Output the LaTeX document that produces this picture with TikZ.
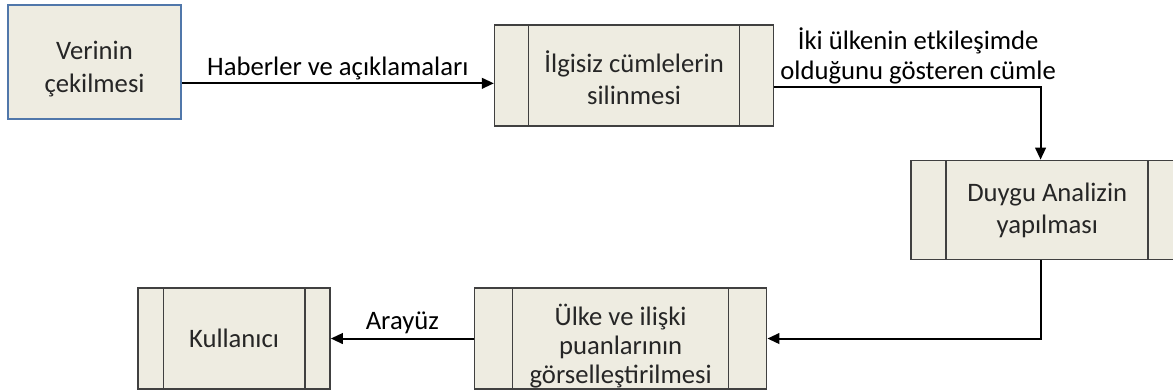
\documentclass[tikz,border=0pt]{standalone}
\usepackage{fontspec}
\setmainfont{Carlito}
\usetikzlibrary{arrows.meta,positioning}
\definecolor{kutu}{HTML}{EEECE1}
\definecolor{cerceve}{HTML}{404040}
\definecolor{mavi}{HTML}{5077AA}

\begin{document}
\begin{tikzpicture}[
	x=1pt,y=1pt,
	node distance=20pt,
	box/.style={draw=cerceve,line width=1.2pt,fill=kutu,rectangle,font=\fontsize{20}{24}\selectfont,align=center,text=black!85,inner sep=0pt},
	proc/.style={box,path picture={
		\draw[cerceve,line width=1.2pt] ([xshift=#1]path picture bounding box.north west) -- ([xshift=#1]path picture bounding box.south west);
		\draw[cerceve,line width=1.2pt] ([xshift=-#1]path picture bounding box.north east) -- ([xshift=-#1]path picture bounding box.south east);}},
	flow/.style={-{Triangle[length=9pt,width=8pt]},line width=1.5pt},
	etiket/.style={font=\fontsize{20}{22.5}\selectfont,align=center,inner sep=0pt}
	]
	
	\useasboundingbox (0,0) rectangle (879.75,294);
	
	% Veri kaynağı
	\node[box,draw=mavi,minimum width=129.75pt,minimum height=85.5pt,font=\fontsize{20}{24.5}\selectfont] (verinin) at (70.9,247.5) {\rule{0pt}{24pt}Verinin\\çekilmesi};
	
	% Süreç adımları
	\node[proc=25.5pt,minimum width=209.25pt,minimum height=75.75pt,right=234pt of verinin,yshift=-10pt] (ilgisiz) {\rule{0pt}{20pt}İlgisiz cümlelerin\\silinmesi};
	\node[proc=26.25pt,minimum width=204pt,minimum height=74.25pt,below right=24.75pt and 102pt of ilgisiz] (duygu) {Duygu Analizin\\yapılması};
	\node[proc=28.5pt,minimum width=219pt,minimum height=75.75pt,below left=20.25pt and 107.25pt of duygu,font=\fontsize{20}{21.75}\selectfont] (gorsel) {\rule{0pt}{28pt}Ülke ve ilişki\\puanlarının\\görselleştirilmesi};
	\node[proc=19pt,minimum width=144pt,minimum height=75.75pt,left=107.25pt of gorsel] (kullanici) {Kullanıcı};
	
	% Bağlantılar
	\coordinate (g1) at ([yshift=-16pt]verinin.east);
	\draw[flow] (g1) -- (g1 -| ilgisiz.west) node[midway,above=2pt,etiket] {Haberler ve açıklamaları};
	
	\coordinate (g2) at ([yshift=-8.6pt]ilgisiz.east);
	\coordinate (g3) at ([xshift=-5pt]duygu.north);
	\draw[flow] (g2) -| (g3) node[pos=0.27,above=1pt,etiket] {İki ülkenin etkileşimde\\olduğunu gösteren cümle};
	
	\draw[flow] ([xshift=-5pt]duygu.south) |- (gorsel.east);
	\draw[flow] (gorsel.west) -- (kullanici.east) node[midway,above=3pt,etiket] {Arayüz};
	
\end{tikzpicture}
\end{document}
